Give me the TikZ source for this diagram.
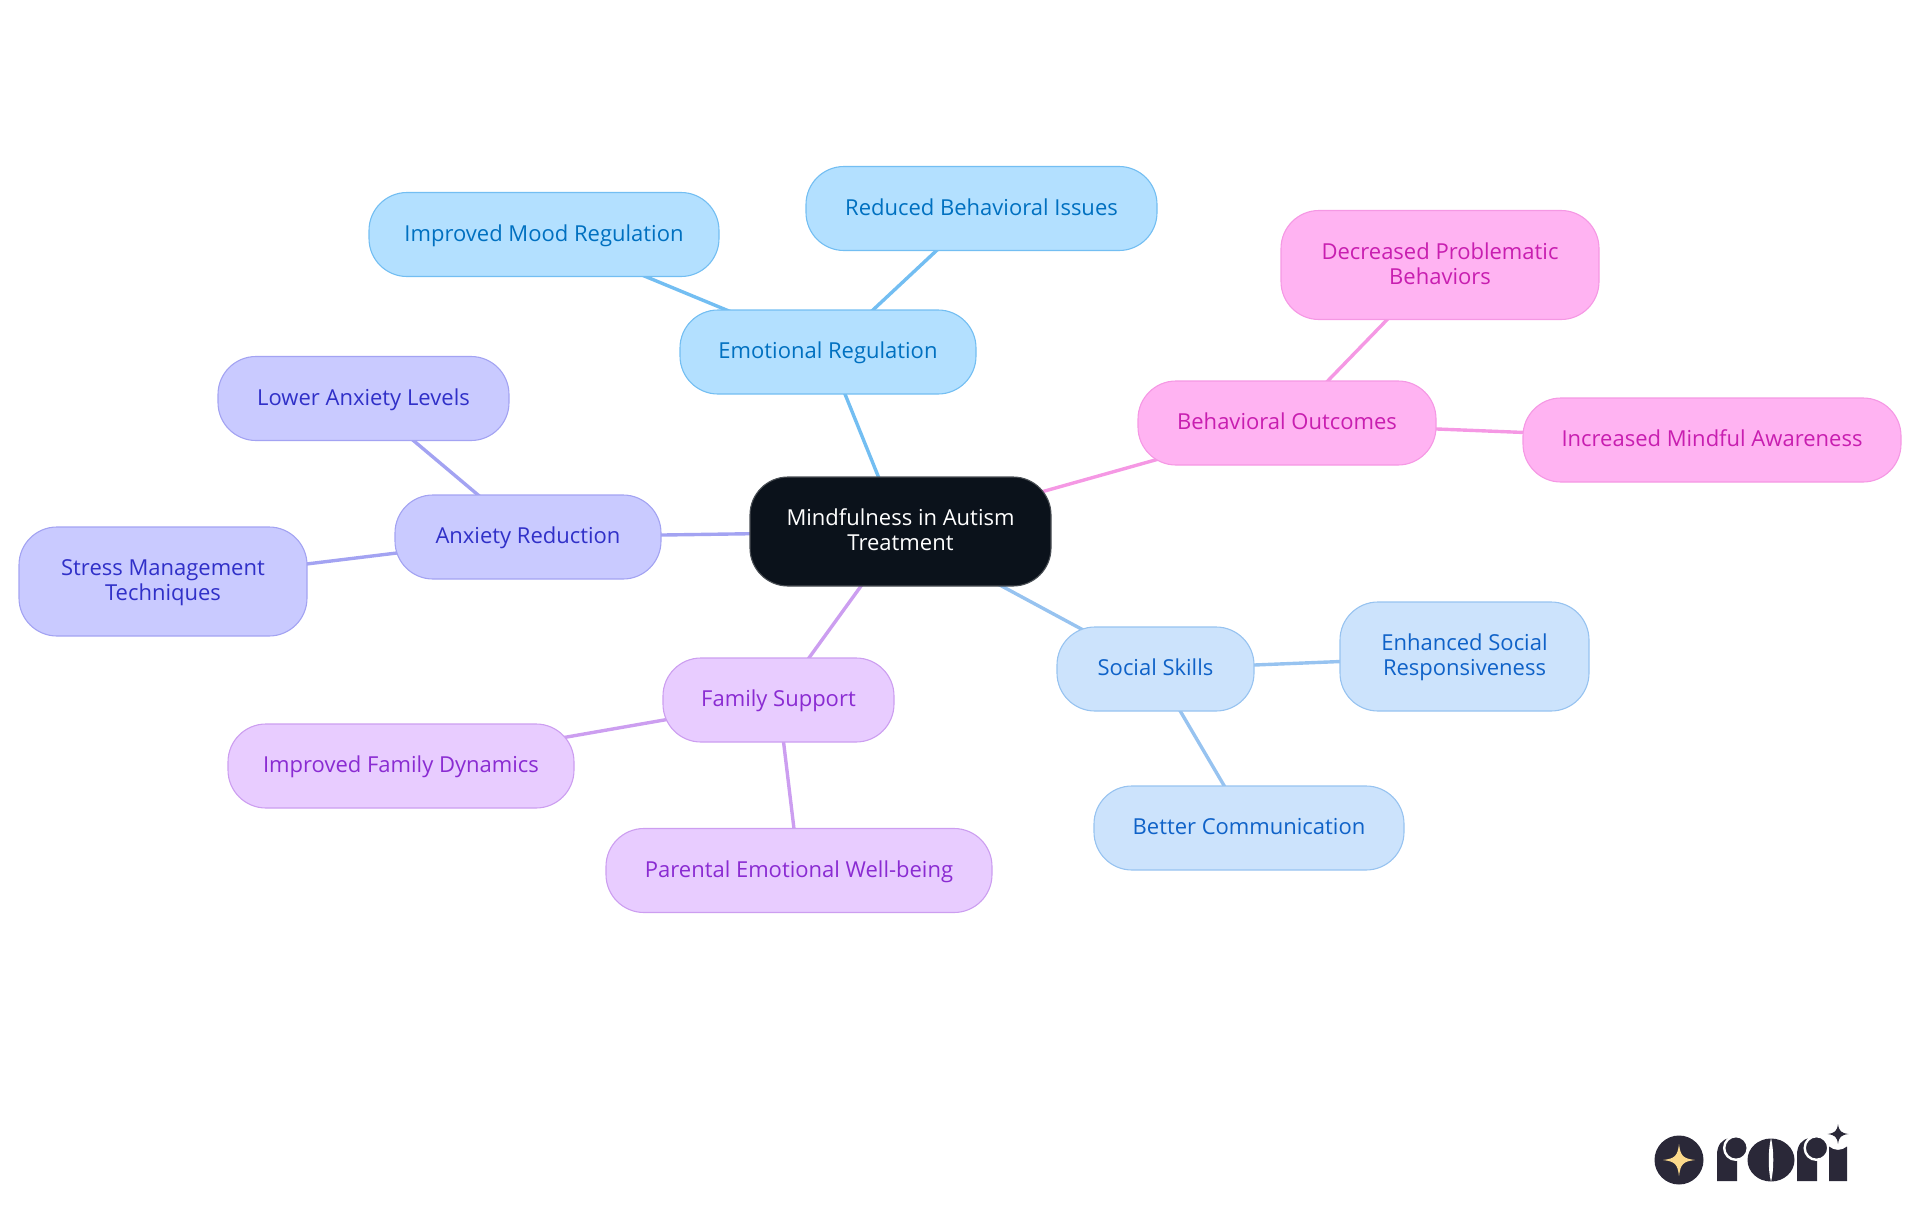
\documentclass[tikz,border=0pt]{standalone}
\usepackage{fontspec}
\setmainfont{Open Sans}
\definecolor{rootf}{HTML}{0B121B}\definecolor{rootd}{HTML}{4A4F55}
\definecolor{bluef}{HTML}{B3E0FF}\definecolor{blued}{HTML}{73BEF2}\definecolor{bluet}{HTML}{0070C0}
\definecolor{pinkf}{HTML}{FFB3F2}\definecolor{pinkd}{HTML}{F598E4}\definecolor{pinkt}{HTML}{C81EB0}
\definecolor{skyf}{HTML}{CCE3FC}\definecolor{skyd}{HTML}{97C3F0}\definecolor{skyt}{HTML}{0F62C8}
\definecolor{lilaf}{HTML}{E8CCFF}\definecolor{lilad}{HTML}{CC9EF0}\definecolor{lilat}{HTML}{8A2BD2}
\definecolor{violf}{HTML}{C9CAFF}\definecolor{viold}{HTML}{A3A3F2}\definecolor{violt}{HTML}{3030C8}
\definecolor{logod}{HTML}{2A2838}\definecolor{logog}{HTML}{FBD98B}
\pgfdeclarelayer{edges}\pgfsetlayers{edges,main}
\tikzset{
  x=1pt,y=-1pt,
  box/.style={draw,line width=1.1pt,rounded corners=38pt,align=center,inner sep=0pt,
    text height=17pt,text depth=3.6pt,
    font=\fontsize{22}{24.6}\selectfont},
  twoline/.style={text height=41.6pt},
  rootbox/.style={box,fill=rootf,draw=rootd,text=white},
  bluebox/.style={box,fill=bluef,draw=blued,text=bluet},
  pinkbox/.style={box,fill=pinkf,draw=pinkd,text=pinkt},
  skybox/.style={box,fill=skyf,draw=skyd,text=skyt},
  lilabox/.style={box,fill=lilaf,draw=lilad,text=lilat},
  violbox/.style={box,fill=violf,draw=viold,text=violt},
  link/.style={line width=3.4pt},
  ball/.style={fill=logod,draw=white,line width=2.4pt},
  size/.style n args={2}{minimum width=#1pt,minimum height=#2pt}
}
\begin{document}
\begin{tikzpicture}
\useasboundingbox (0,0) rectangle (1920,1215);
\node[rootbox,twoline,size={301}{109}] (root) at (900.5,531.5) {Mindfulness in Autism\\Treatment};
\node[bluebox,size={296}{84}] (emo) at (828,352) {Emotional Regulation};
\node[bluebox,size={350}{84}] (mood) at (544,234.5) {Improved Mood Regulation};
\node[bluebox,size={351}{84}] (red) at (981.5,208.5) {Reduced Behavioral Issues};
\node[pinkbox,size={298}{84}] (beh) at (1287,423) {Behavioral Outcomes};
\node[pinkbox,twoline,size={318}{109}] (dec) at (1440,265) {Decreased Problematic\\Behaviors};
\node[pinkbox,size={378}{84}] (inc) at (1712,440) {Increased Mindful Awareness};
\node[skybox,size={197}{84}] (soc) at (1155.5,669) {Social Skills};
\node[skybox,twoline,size={249}{109}] (enh) at (1464.5,656.5) {Enhanced Social\\Responsiveness};
\node[skybox,size={310}{84}] (bet) at (1249,828) {Better Communication};
\node[lilabox,size={231}{84}] (fam) at (778.5,700) {Family Support};
\node[lilabox,size={346}{84}] (dyn) at (401,766) {Improved Family Dynamics};
\node[lilabox,size={386}{84}] (par) at (799,870.5) {Parental Emotional Well-being};
\node[violbox,size={266}{84}] (anx) at (528,537) {Anxiety Reduction};
\node[violbox,size={291}{84}] (low) at (363.5,398.5) {Lower Anxiety Levels};
\node[violbox,twoline,size={288}{109}] (str) at (163,581.5) {Stress Management\\Techniques};
\begin{pgfonlayer}{edges}
\draw[link,blued] (root.center) -- (emo.center);
\draw[link,blued] (emo.center) -- (mood.center);
\draw[link,blued] (emo.center) -- (red.center);
\draw[link,pinkd] (root.center) -- (beh.center);
\draw[link,pinkd] (beh.center) -- (dec.center);
\draw[link,pinkd] (beh.center) -- (inc.center);
\draw[link,skyd] (root.center) -- (soc.center);
\draw[link,skyd] (soc.center) -- (enh.center);
\draw[link,skyd] (soc.center) -- (bet.center);
\draw[link,lilad] (root.center) -- (fam.center);
\draw[link,lilad] (fam.center) -- (dyn.center);
\draw[link,lilad] (fam.center) -- (par.center);
\draw[link,viold] (root.center) -- (anx.center);
\draw[link,viold] (anx.center) -- (low.center);
\draw[link,viold] (anx.center) -- (str.center);
\end{pgfonlayer}
% logo
\fill[logod] (1679,1160) circle[radius=24.5];
\fill[logog] (1679,1144) .. controls (1680.5,1156) and (1683,1158.5) .. (1695,1160) .. controls (1683,1161.5) and (1680.5,1164) .. (1679,1176) .. controls (1677.5,1164) and (1675,1161.5) .. (1663,1160) .. controls (1675,1158.5) and (1677.5,1156) .. (1679,1144) -- cycle;
% first r
\fill[logod] (1717,1181) -- (1717,1155) .. controls (1717,1145) and (1722,1139) .. (1730,1138) -- (1737,1150) -- (1737,1181) -- cycle;
\path[ball] (1736,1148) circle[radius=11.8];
% o
\fill[logod] (1771,1160) ellipse[x radius=23.5,y radius=21.5];
\fill[white] (1771,1138) .. controls (1768,1150) and (1768,1170) .. (1771,1182) .. controls (1774,1170) and (1774,1150) .. (1771,1138) -- cycle;
% second r
\fill[logod] (1797,1181) -- (1797,1155) .. controls (1797,1145) and (1802,1139) .. (1810,1138) -- (1817,1150) -- (1817,1181) -- cycle;
\path[ball] (1816.5,1148) circle[radius=11.8];
% i
\fill[logod] (1829,1181) -- (1829,1146.5) .. controls (1834,1151) and (1842,1151) .. (1847,1146.5) -- (1847,1181) -- cycle;
\fill[logod] (1838,1124) .. controls (1839,1131) and (1841,1133) .. (1848.5,1134) .. controls (1841,1135) and (1839,1137) .. (1838,1144) .. controls (1837,1137) and (1835,1135) .. (1827.5,1134) .. controls (1835,1133) and (1837,1131) .. (1838,1124) -- cycle;
\end{tikzpicture}
\end{document}
